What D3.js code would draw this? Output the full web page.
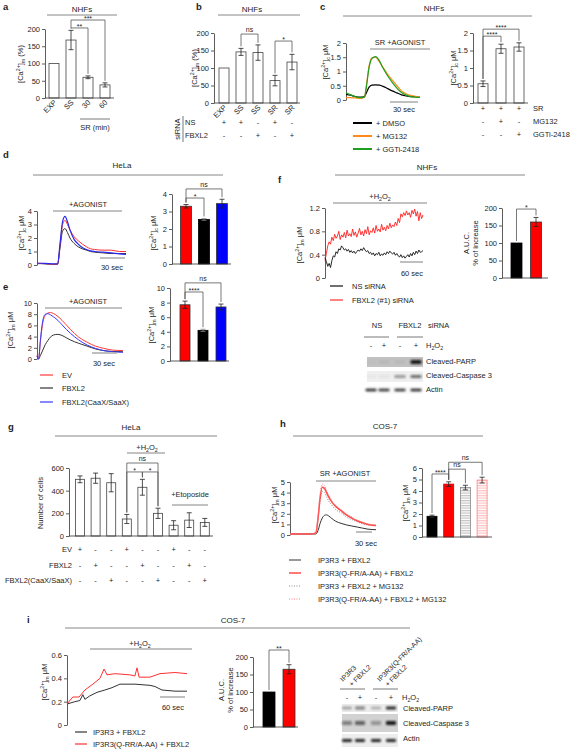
<!DOCTYPE html>
<html><head><meta charset="utf-8">
<script src="https://cdn.jsdelivr.net/npm/d3@7"></script>
<style>
body{margin:0;background:#fff;}
svg{font-family:"Liberation Sans",Arial,sans-serif;}
</style></head><body>
<svg id="fig" width="574" height="750"></svg>
<script>
// ---------------- DATA ----------------
const aCategories = ["EXP","SS","30","60"];
const aValues = [100,168,60,38];
const aErrors = [0,28,4,6];
const aTicks = [0,50,100,150,200];

const bCategories = ["EXP","SS","SS","SR","SR"];
const bValues = [100,146,144,64,117];
const bErrors = [0,10,22,15,22];
const bTicks = [0,50,100,150,200];
const bRowNames = ["NS","FBXL2"];
const bRows = [["+","+","-","+","-"],["-","-","+","-","+"]];

const cTime = [0,5,10,15,20,22,25,28,32,36,40,45,50,55,60,65,70,75,80];
const cDMSO = [0.20,0.17,0.12,0.10,0.12,0.25,0.45,0.52,0.53,0.52,0.48,0.40,0.32,0.25,0.18,0.14,0.12,0.12,0.12];
const cMG132 = [0.08,0.08,0.07,0.06,0.10,0.50,1.20,1.48,1.50,1.35,1.15,0.90,0.70,0.50,0.32,0.22,0.16,0.13,0.12];
const cGGTi = [0.25,0.18,0.12,0.08,0.10,0.45,1.15,1.45,1.52,1.38,1.12,0.85,0.62,0.42,0.26,0.17,0.12,0.10,0.09];
const cTraceTicks = [0,0.5,1,1.5,2];
const cLegend = ["+ DMSO","+ MG132","+ GGTi-2418"];
const cBarValues = [0.55,1.55,1.6];
const cBarErrors = [0.08,0.13,0.12];
const cBarTicks = [0,0.5,1,1.5,2];
const cRowNames = ["SR","MG132","GGTi-2418"];
const cRows = [["+","+","+"],["-","+","-"],["-","-","+"]];

const dTime = [0,5,10,15,20,25,28,31,34,37,40,45,50,55,60,65,70,80,90,100,108];
const dEV = [0.12,0.12,0.10,0.08,0.05,0.08,1.5,3.0,3.3,3.0,2.6,2.1,1.8,1.55,1.35,1.2,1.15,1.1,1.1,1.0,1.0];
const dFBXL2 = [0.10,0.10,0.08,0.06,0.05,0.06,1.3,2.5,2.7,2.4,2.0,1.6,1.35,1.2,1.1,1.0,0.95,0.9,0.85,0.85,0.85];
const dCaaX = [0.15,0.13,0.12,0.10,0.08,0.08,1.6,3.2,3.6,3.2,2.6,1.9,1.55,1.3,1.15,1.05,1.0,0.95,0.9,0.82,0.78];
const dTicks = [0,1,2,3,4];
const dBarValues = [3.3,2.55,3.45];
const dBarErrors = [0.1,0.05,0.25];

const eTime = [0,2,4,7,10,13,16,20,25,30,35,40,50,60,70,80,90,103];
const eEV = [0.6,0.3,3.0,6.5,7.8,8.2,8.3,8.1,7.6,6.9,6.1,5.3,3.9,3.0,2.3,1.9,1.6,1.5];
const eFBXL2 = [0.5,0.0,0.6,1.6,2.6,3.3,3.9,4.3,4.4,4.2,3.8,3.4,2.8,2.3,1.8,1.5,1.35,1.3];
const eCaaX = [0.5,0.0,3.3,6.9,8.0,8.1,7.9,7.5,6.9,6.1,5.3,4.6,3.4,2.5,1.9,1.5,1.3,1.2];
const eTicks = [0,2,4,6,8,10];
const eLegend = ["EV","FBXL2","FBXL2(CaaX/SaaX)"];
const eBarValues = [7.7,4.2,7.4];
const eBarErrors = [0.5,0.15,0.4];

const fFBXL2 = [0.30,0.42,0.55,0.62,0.58,0.70,0.64,0.75,0.68,0.72,0.80,0.66,0.74,0.70,0.78,0.69,0.82,0.72,0.76,0.71,
  0.84,0.73,0.79,0.70,0.77,0.85,0.74,0.80,0.72,0.83,0.76,0.88,0.74,0.81,0.78,0.86,0.77,0.90,0.80,0.84,
  0.79,0.92,0.82,0.87,0.81,0.90,0.84,0.94,0.86,0.91,0.88,0.96,0.90,1.02,0.95,1.10,1.05,1.12,1.07,1.15,
  1.08,1.12,1.04,1.16,1.10,1.18,1.06,1.14,0.98,1.12,1.02,1.08];
const fNS = [0.35,0.28,0.20,0.25,0.18,0.30,0.38,0.36,0.45,0.42,0.50,0.48,0.55,0.52,0.48,0.50,0.46,0.49,0.44,0.47,
  0.43,0.46,0.42,0.45,0.48,0.46,0.50,0.47,0.52,0.48,0.45,0.47,0.42,0.44,0.40,0.43,0.38,0.42,0.40,0.44,
  0.38,0.41,0.39,0.43,0.40,0.45,0.42,0.46,0.43,0.41,0.44,0.39,0.42,0.38,0.36,0.40,0.35,0.38,0.34,0.37,
  0.40,0.36,0.42,0.38,0.44,0.40,0.46,0.42,0.48,0.44,0.45,0.47];
const fTicks = [0,0.4,0.8,1.2];
const fLegend = ["NS siRNA","FBXL2 (#1) siRNA"];
const fBarValues = [100,160];
const fBarErrors = [0,13];
const fBarTicks = [0,50,100,150,200];
const fBlotH2O2 = ["-","+","-","+"];
const fBlotPARP = [0.02,0.05,0.05,0.95];
const fBlotCasp = [0.03,0.05,0.4,0.6];
const fBlotActin = [0.9,0.85,0.85,0.9];

const gValues = [500,510,470,150,430,200,95,140,120];
const gErrors = [30,45,80,40,70,45,40,65,35];
const gTicks = [0,200,400,600];
const gRowNames = ["EV","FBXL2","FBXL2(CaaX/SaaX)"];
const gRows = [["+","-","-","+","-","-","+","-","-"],
               ["-","+","-","-","+","-","-","+","-"],
               ["-","-","+","-","-","+","-","-","+"]];

const hTime = [0,10,20,30,40,48,52,56,60,64,68,72,78,85,95,105,115,125,135,145,160];
const hWT = [0.1,0.1,0.1,0.1,0.1,0.1,0.4,1.1,1.6,1.85,1.9,1.8,1.55,1.3,1.1,0.95,0.85,0.75,0.65,0.55,0.5];
const hMut = [0.1,0.1,0.1,0.1,0.1,0.2,1.5,3.5,4.5,4.4,4.0,3.6,3.1,2.7,2.3,1.9,1.6,1.35,1.15,1.0,0.9];
const hWTMG = [0.1,0.1,0.1,0.1,0.1,0.2,1.4,3.2,4.1,4.0,3.6,3.2,2.8,2.4,2.1,1.7,1.45,1.25,1.05,0.95,0.85];
const hMutMG = [0.1,0.1,0.1,0.1,0.1,0.2,1.7,3.9,4.8,4.7,4.2,3.8,3.2,2.8,2.4,2.0,1.7,1.4,1.2,1.05,0.95];
const hTicks = [0,1,2,3,4,5];
const hLegend = ["IP3R3 + FBXL2","IP3R3(Q-FR/A-AA) + FBXL2","IP3R3 + FBXL2 + MG132","IP3R3(Q-FR/A-AA) + FBXL2 + MG132"];
const hBarValues = [1.8,4.6,4.3,4.95];
const hBarErrors = [0.1,0.2,0.2,0.25];
const hBarTicks = [0,1,2,3,4,5,6];

const iTimeWT = [0,19,31,38,43,55,72,91,108,127,163,199,211,228,259,288];
const iWT = [0.18,0.20,0.21,0.26,0.22,0.25,0.28,0.30,0.32,0.35,0.35,0.34,0.33,0.30,0.29,0.29];
const iTimeMut = [0,14,29,43,62,79,89,96,115,151,163,168,173,199,223,259,288];
const iMut = [0.18,0.24,0.24,0.30,0.35,0.40,0.48,0.43,0.44,0.43,0.42,0.49,0.41,0.41,0.44,0.45,0.44];
const iTicks = [0,0.2,0.4,0.6];
const iLegend = ["IP3R3 + FBXL2","IP3R3(Q-RR/A-AA) + FBXL2"];
const iBarValues = [100,165];
const iBarErrors = [0,13];
const iBarTicks = [0,50,100,150,200];
const iBlotH2O2 = ["-","+","-","+"];
const iBlotPARP = [0.3,0.5,0.25,0.9];
const iBlotCasp = [0.45,0.6,0.35,0.95];
const iBlotActin = [0.9,0.9,0.9,0.9];

// ---------------- HELPERS ----------------
const svg = d3.select("#fig");
const FS = 7.5;
const TXT = "#1e1e1e";
const defs = svg.append("defs");
defs.append("filter").attr("id","blur").attr("x","-50%").attr("y","-100%").attr("width","200%").attr("height","300%")
  .append("feGaussianBlur").attr("stdDeviation",0.9);
function hatch(id, bg, fg){
  const p = defs.append("pattern").attr("id",id).attr("patternUnits","userSpaceOnUse").attr("width",4).attr("height",2.5);
  p.append("rect").attr("width",4).attr("height",2.5).attr("fill",bg);
  p.append("line").attr("x1",0).attr("x2",4).attr("y1",0.7).attr("y2",0.7).attr("stroke",fg).attr("stroke-width",0.8);
}
hatch("hatchGray","#fff","#9a9a9a");
hatch("hatchPink","#fff","#ff9a9a");

function rich(t, parts, fs){
  let shift = 0;
  parts.forEach(p => {
    const [s, m] = typeof p === "string" ? [p, ""] : p;
    const target = m === "sup" ? -fs*0.38 : m === "sub" ? fs*0.28 : 0;
    t.append("tspan").attr("dy", target - shift).attr("font-size", m ? fs*0.7 : fs).text(s);
    shift = target;
  });
}
function T(x, y, s, o = {}){
  const fs = o.size || FS;
  const t = svg.append("text").attr("x", x).attr("y", y).attr("font-size", fs)
    .attr("text-anchor", o.anchor || "middle").attr("fill", o.fill || TXT);
  if (o.bold) t.attr("font-weight","bold");
  if (o.rotate !== undefined) t.attr("transform", `rotate(${o.rotate},${x},${y})`);
  if (typeof s === "string") t.text(s); else rich(t, s, fs);
  return t;
}
function L(x1,y1,x2,y2,o={}){
  svg.append("line").attr("x1",x1).attr("y1",y1).attr("x2",x2).attr("y2",y2)
    .attr("stroke",o.color||"#333").attr("stroke-width",o.w||0.8)
    .attr("stroke-dasharray",o.dash||null);
}
const ca = (sub, unit) => ["[Ca", ["2+","sup"], "]", [sub,"sub"], unit ? " " + unit : ""];
const h2o2 = pre => [pre + "H", ["2","sub"], "O", ["2","sub"]];
const letter = {size:9.5, bold:true, anchor:"start"};
const title = {size:8};
const TL = {color:"#888", w:1};
const SB = {color:"#aaa", w:1.5};

function leftAxis(x, y, ticks){
  const g = svg.append("g").attr("transform", `translate(${x},0)`)
    .call(d3.axisLeft(y).tickValues(ticks).tickSize(3).tickSizeOuter(0).tickPadding(2).tickFormat(d => String(d)));
  g.attr("font-family", null).attr("font-size", null);
  g.select(".domain").attr("stroke","#333").attr("stroke-width",0.8);
  g.selectAll(".tick line").attr("stroke","#333").attr("stroke-width",0.8);
  g.selectAll(".tick text").attr("font-size",FS).attr("fill",TXT);
  return g;
}
function barChart(o){
  const y = d3.scaleLinear().domain([0,o.max]).range(o.yRange);
  const n = o.values.length;
  const r0 = o.firstCenter - o.step/2;
  const x = d3.scaleBand().domain(d3.range(n)).range([r0, r0 + n*o.step])
    .paddingInner(1 - o.bw/o.step).paddingOuter((1 - o.bw/o.step)/2);
  const cx = i => x(i) + x.bandwidth()/2;
  svg.append("g").selectAll("rect").data(o.values).join("rect")
    .attr("x",(d,i)=>x(i)).attr("y",d=>y(d)).attr("width",x.bandwidth()).attr("height",d=>y(0)-y(d))
    .attr("fill",(d,i)=>o.fills ? o.fills[i] : "#fff")
    .attr("stroke",(d,i)=>o.strokes ? o.strokes[i] : "#444").attr("stroke-width",0.8);
  o.values.forEach((v,i)=>{
    const e = o.errors[i]; if (!e) return;
    const c = cx(i), col = o.errColor ? o.errColor[i] : "#222";
    L(c, y(v-e), c, y(v+e), {color:col});
    L(c-2.5, y(v+e), c+2.5, y(v+e), {color:col});
    L(c-2.5, y(v-e), c+2.5, y(v-e), {color:col});
  });
  leftAxis(o.axisX, y, o.ticks);
  L(o.axisX, y(0), o.axisEnd, y(0), {color:"#333"});
  return {x, y, cx, top: i => y(o.values[i] + o.errors[i])};
}
function bracket(p, i, j, level, label){
  const yT = p.y(level), x1 = p.cx(i), x2 = p.cx(j);
  svg.append("path").attr("d",`M${x1},${p.top(i)-2}V${yT}H${x2}V${p.top(j)-2}`)
    .attr("fill","none").attr("stroke","#555").attr("stroke-width",0.8);
  const star = label.includes("*");
  T((x1+x2)/2, star ? yT + 1 : yT - 2, label, {size:7});
}
function tracePlot(o){
  const x = d3.scaleLinear().domain(o.xDomain).range(o.xRange);
  const y = d3.scaleLinear().domain([0,o.yMax]).range(o.yRange);
  leftAxis(o.axisX, y, o.ticks);
  return {x, y};
}
function drawLine(p, xs, ys, color, w, dash, curve){
  svg.append("path").datum(ys).attr("fill","none").attr("stroke",color).attr("stroke-width",w||1)
    .attr("stroke-dasharray",dash||null).attr("stroke-linejoin","round")
    .attr("d", d3.line().x((d,i)=>p.x(xs[i])).y(d=>p.y(d)).curve(curve||d3.curveMonotoneX));
}
function blot(laneX, x0, x1, y0, y1, bg, intens, bandH, bandW){
  svg.append("rect").attr("x",x0).attr("y",y0).attr("width",x1-x0).attr("height",y1-y0).attr("fill",bg);
  svg.append("g").attr("filter","url(#blur)").selectAll("rect").data(intens).join("rect")
    .attr("x",(d,i)=>laneX[i]-bandW/2).attr("y",(y0+y1)/2-bandH/2)
    .attr("width",bandW).attr("height",bandH).attr("rx",1).attr("fill","#111").attr("opacity",d=>d);
}

// ---------------- PANEL a ----------------
T(3,10,"a",letter);
T(82,12,"NHFs",title); L(47,15,117,15,TL);
const pa = barChart({values:aValues, errors:aErrors, axisX:45, firstCenter:54, step:17, bw:10,
  yRange:[98,29], max:200, ticks:aTicks, axisEnd:114});
aCategories.forEach((c,i)=>T(pa.cx(i)+3,103,c,{anchor:"end",rotate:-45}));
L(80,119,110,119,{color:"#555"}); T(95,130,"SR (min)");
bracket(pa,1,2,203,"**"); bracket(pa,1,3,226,"***");
T(23,64,ca("m","(%)"),{rotate:-90});

// ---------------- PANEL b ----------------
T(196,10,"b",letter);
T(252,12,"NHFs",title); L(218,15,300,15,TL);
const pb = barChart({values:bValues, errors:bErrors, axisX:214, firstCenter:224, step:17, bw:10,
  yRange:[103,33], max:200, ticks:bTicks, axisEnd:300});
bCategories.forEach((c,i)=>T(pb.cx(i)+3,108,c,{anchor:"end",rotate:-45}));
bracket(pb,1,2,197,"ns"); bracket(pb,3,4,177,"*");
T(197,68,ca("m","(%)"),{rotate:-90});
T(180,129,"siRNA",{rotate:-90}); L(183,116,183,142,{color:"#555"});
bRowNames.forEach((nm,r)=>T(185,[125,138][r],nm,{anchor:"start"}));
bRows.forEach((row,r)=>row.forEach((s,i)=>T(pb.cx(i),[125,138][r],s)));

// ---------------- PANEL c ----------------
T(320,10,"c",letter);
T(434,11,"NHFs",title); L(343,16,532,16,TL);
const pc = tracePlot({xDomain:[0,80], xRange:[346,420], yMax:2, yRange:[100,43], ticks:cTraceTicks, axisX:346});
const cCols = ["#000","#ff8c1a","#1f9e1f"];
drawLine(pc,cTime,cDMSO,cCols[0],1.2);
drawLine(pc,cTime,cMG132,cCols[1],1.2);
drawLine(pc,cTime,cGGTi,cCols[2],1.2);
T(400,45,"SR +AGONIST"); L(370,49,430,49,{color:"#666"});
L(390,102,418,102,SB); T(404,112,"30 sec");
T(328,62,ca("c","μM"),{rotate:-90});
cLegend.forEach((s,i)=>{ L(353,123+13*i,372,123+13*i,{color:cCols[i],w:2}); T(376,126+13*i,s,{anchor:"start"}); });
const pc2 = barChart({values:cBarValues, errors:cBarErrors, axisX:473, firstCenter:483, step:18, bw:10,
  yRange:[103,33], max:2, ticks:cBarTicks, axisEnd:528});
bracket(pc2,0,1,1.91,"****"); bracket(pc2,0,2,2.11,"****");
T(456,68,ca("c","μM"),{rotate:-90});
cRowNames.forEach((nm,r)=>T(533,[111,124,137][r],nm,{anchor:"start"}));
cRows.forEach((row,r)=>row.forEach((s,i)=>T(pc2.cx(i),[111,124,137][r],s)));

// ---------------- PANEL d ----------------
T(3,158,"d",letter);
T(122,168,"HeLa",title); L(33,175,223,175,TL);
const pd = tracePlot({xDomain:[0,108], xRange:[37,126], yMax:4, yRange:[265,211], ticks:dTicks, axisX:37});
drawLine(pd,dTime,dFBXL2,"#333",1);
drawLine(pd,dTime,dEV,"#ff3030",1);
drawLine(pd,dTime,dCaaX,"#2a2aee",1.2);
T(88,207,"+AGONIST"); L(53,211,122,211,{color:"#666"});
L(100,258,125,258,SB); T(112,270,"30 sec");
T(24,233,ca("c","μM"),{rotate:-90});
const rbk = ["#ff0000","#000000","#0000ff"];
const pd2 = barChart({values:dBarValues, errors:dBarErrors, axisX:172, firstCenter:186, step:18, bw:11,
  yRange:[264,194], max:4, ticks:dTicks, axisEnd:231, fills:rbk, strokes:["#333","#000","#333"], errColor:["#222","#888","#222"]});
bracket(pd2,0,1,3.77,"*"); bracket(pd2,0,2,4.29,"ns");
T(156,233,ca("c","μM"),{rotate:-90});

// ---------------- PANEL e ----------------
T(3,290,"e",letter);
const pe = tracePlot({xDomain:[0,103], xRange:[37,123], yMax:10, yRange:[359,303], ticks:eTicks, axisX:37});
const eCols = ["#ff3a3a","#333","#3a3aff"];
drawLine(pe,eTime,eFBXL2,eCols[1],1);
drawLine(pe,eTime,eEV,eCols[0],1);
drawLine(pe,eTime,eCaaX,eCols[2],1);
T(88,304,"+AGONIST"); L(45,308,122,308,{color:"#666"});
L(92,353,117,353,SB); T(104,366,"30 sec");
T(13,330,ca("m","μM"),{rotate:-90});
eLegend.forEach((s,i)=>{ const yy=[375,388,402][i]; L(40,yy,53,yy,{color:eCols[i],w:1.2}); T(62,yy+3,s,{anchor:"start"}); });
const pe2 = barChart({values:eBarValues, errors:eBarErrors, axisX:170, firstCenter:185, step:18, bw:10,
  yRange:[361,288], max:10, ticks:eTicks, axisEnd:229, fills:rbk, strokes:["#333","#000","#333"], errColor:["#222","#888","#222"]});
bracket(pe2,0,1,9.45,"****"); bracket(pe2,0,2,10.7,"ns");
T(154,325,ca("m","μM"),{rotate:-90});

// ---------------- PANEL f ----------------
T(278,183,"f",letter);
T(427,170,"NHFs",title); L(335,175,525,175,TL);
T(380,199,h2o2("+")); L(333,203,427,203,{color:"#666"});
const fIdx = d3.range(fNS.length);
const pf = tracePlot({xDomain:[0,fNS.length-1], xRange:[325,423], yMax:1.2, yRange:[278,208], ticks:fTicks, axisX:325});
drawLine(pf,fIdx,fFBXL2,"#ff2020",0.9,null,d3.curveLinear);
drawLine(pf,fIdx,fNS,"#111",0.9,null,d3.curveLinear);
L(400,262,423,262,SB); T(412,276,"60 sec");
T(302,245,ca("m","μM"),{rotate:-90});
fLegend.forEach((s,i)=>{ const yy=[286,300][i]; L(330,yy,343,yy,{color:["#111","#ff3030"][i],w:1.2}); T(352,yy+3,s,{anchor:"start"}); });
const pf2 = barChart({values:fBarValues, errors:fBarErrors, axisX:502, firstCenter:516.5, step:19.5, bw:11,
  yRange:[278,208], max:200, ticks:fBarTicks, axisEnd:548, fills:["#000","#ff0000"], strokes:["#000","#333"]});
bracket(pf2,0,1,197,"*");
T(469,243,"A.U.C.",{rotate:-90}); T(478,243,"% of increase",{rotate:-90});
// blot f
const fLaneX = [371,384,400,416];
T(377,328,"NS"); T(410,328,"FBXL2"); T(428,328,"siRNA",{anchor:"start"});
L(364,337,389,337,{color:"#555"}); L(397,337,423,337,{color:"#555"});
fBlotH2O2.forEach((s,i)=>T(fLaneX[i],348,s));
T(426,348,h2o2(""),{anchor:"start"});
blot(fLaneX,367,423,357,367,"#c2c2c2",fBlotPARP,4,11);
blot(fLaneX,367,423,371,382,"#efefef",fBlotCasp,3,11);
blot(fLaneX,367,423,386,394,"#fafafa",fBlotActin,2.5,11);
T(426,364,"Cleaved-PARP",{anchor:"start"});
T(426,378,"Cleaved-Caspase 3",{anchor:"start"});
T(426,392,"Actin",{anchor:"start"});

// ---------------- PANEL g ----------------
T(8,430,"g",letter);
T(131,430,"HeLa",title); L(55,436,217,436,TL);
T(147,450,h2o2("+")); L(127,453,165,453,{color:"#666"});
const pg = barChart({values:gValues, errors:gErrors, axisX:69, firstCenter:80, step:15.6, bw:9,
  yRange:[536,468], max:600, ticks:gTicks, axisEnd:213});
bracket(pg,3,5,644,"ns"); bracket(pg,3,4,565,"*"); bracket(pg,4,5,565,"*");
T(190,497,"+Etoposide"); L(172,505,208,505,{color:"#666"});
T(43,503,"Number of cells",{rotate:-90});
gRowNames.forEach((nm,r)=>T(72,[552,568,583][r],nm,{anchor:"end"}));
gRows.forEach((row,r)=>row.forEach((s,i)=>T(pg.cx(i),[552,568,583][r],s)));

// ---------------- PANEL h ----------------
T(280,427,"h",letter);
T(385,429,"COS-7",title); L(293,436,483,436,TL);
T(345,476,"SR +AGONIST"); L(316,481,376,481,{color:"#666"});
const ph = tracePlot({xDomain:[0,160], xRange:[290,376], yMax:5, yRange:[535,482], ticks:hTicks, axisX:290});
const hStyles = [{c:"#333",w:1,d:null},{c:"#ff4a4a",w:1.5,d:null},{c:"#8a8a8a",w:1,d:"1,1.5"},{c:"#ff7a7a",w:1,d:"1,1.5"}];
drawLine(ph,hTime,hWT,hStyles[0].c,hStyles[0].w);
drawLine(ph,hTime,hWTMG,hStyles[2].c,hStyles[2].w,hStyles[2].d);
drawLine(ph,hTime,hMut,hStyles[1].c,hStyles[1].w);
drawLine(ph,hTime,hMutMG,hStyles[3].c,hStyles[3].w,hStyles[3].d);
L(356,532,372,532,SB); T(366,546,"30 sec");
T(277,505,ca("m","μM"),{rotate:-90});
hLegend.forEach((s,i)=>{ const yy=560+13*i, st=hStyles[i]; L(289,yy,301,yy,{color:st.c,w:st.w,dash:st.d}); T(318,yy+3,s,{anchor:"start"}); });
const ph2 = barChart({values:hBarValues, errors:hBarErrors, axisX:422, firstCenter:432, step:16.7, bw:10,
  yRange:[537,468], max:6, ticks:hBarTicks, axisEnd:492,
  fills:["#000","#ff0000","url(#hatchGray)","url(#hatchPink)"], strokes:["#000","#c00","#888","#ff8080"]});
bracket(ph2,0,1,5.48,"****"); bracket(ph2,1,2,5.9,"ns"); bracket(ph2,1,3,6.5,"ns");
T(408,503,ca("m","μM"),{rotate:-90});

// ---------------- PANEL i ----------------
T(27,623,"i",letter);
T(233,623,"COS-7",title); L(65,628,410,628,TL);
T(140,646,h2o2("+")); L(90,649,192,649,{color:"#666"});
const pi = tracePlot({xDomain:[0,288], xRange:[67,187], yMax:0.6, yRange:[725,655], ticks:iTicks, axisX:67});
drawLine(pi,iTimeWT,iWT,"#333",1,null,d3.curveLinear);
drawLine(pi,iTimeMut,iMut,"#ff3030",1,null,d3.curveLinear);
L(160,697,185,697,SB); T(173,710,"60 sec");
T(47,682,ca("m","μM"),{rotate:-90});
iLegend.forEach((s,i)=>{ const yy=[732,744][i]; L(75,yy,87,yy,{color:["#333","#ff3030"][i],w:1.2}); T(93,yy+3,s,{anchor:"start"}); });
const pi2 = barChart({values:iBarValues, errors:iBarErrors, axisX:253, firstCenter:269, step:20, bw:12,
  yRange:[727,657], max:200, ticks:iBarTicks, axisEnd:298, fills:["#000","#ff0000"], strokes:["#000","#333"]});
bracket(pi2,0,1,220,"**");
T(224,690,"A.U.C.",{rotate:-90}); T(233,690,"% of increase",{rotate:-90});
// blot i
const iLaneX = [347,360,376,391];
T(343,682,"IP3R3",{anchor:"start",rotate:-45,size:7});
T(352,687,"+ FBXL2",{anchor:"start",rotate:-45,size:7});
T(380,682,"IP3R3(Q-FR/A-AA)",{anchor:"start",rotate:-45,size:7});
T(388,687,"+ FBXL2",{anchor:"start",rotate:-45,size:7});
L(340,689,365,689,{color:"#555"}); L(373,689,398,689,{color:"#555"});
iBlotH2O2.forEach((s,i)=>T(iLaneX[i],700,s));
T(402,700,h2o2(""),{anchor:"start"});
blot(iLaneX,342,398,704,712,"#ececec",iBlotPARP,3,10);
blot(iLaneX,342,398,714,732,"#d2d2d2",iBlotCasp,4,10);
blot(iLaneX,342,398,734,747,"#ededed",iBlotActin,3,10);
T(403,711,"Cleaved-PARP",{anchor:"start"});
T(403,726,"Cleaved-Caspase 3",{anchor:"start"});
T(403,741,"Actin",{anchor:"start"});
</script>
</body></html>
